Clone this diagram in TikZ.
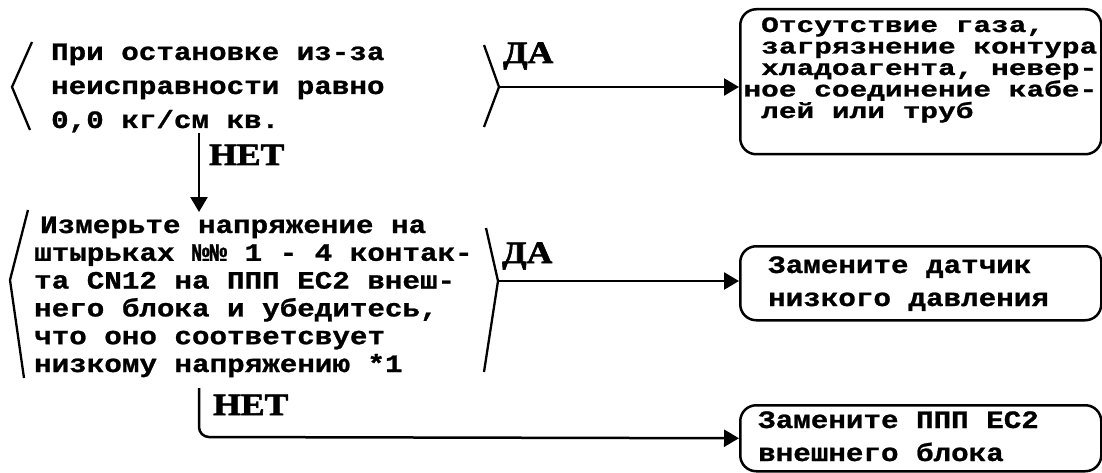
\documentclass[tikz,border=0pt]{standalone}
\usepackage{fontspec}
\usetikzlibrary{arrows.meta}
\newfontfamily\courA[FakeStretch=1.17,FakeBold=1]{Liberation Mono}
\newfontfamily\courB[FakeStretch=1.34,FakeBold=1]{Liberation Mono}
\newfontfamily\labf[FakeStretch=1.15,FakeBold=2]{Liberation Serif}
\protected\def\wspA{\frenchspacing\fontdimen2\font=17.5pt\relax\spaceskip=17.5pt\relax\xspaceskip=17.5pt\relax}
\protected\def\wspB{\frenchspacing\fontdimen2\font=17.7pt\relax\spaceskip=17.7pt\relax\xspaceskip=17.7pt\relax}
\begin{document}
\begin{tikzpicture}[x=1pt,y=-1pt,
  line width=2.3pt,
  brk/.style={line width=2.3pt, line join=miter},
  arr/.style={line width=2.5pt, -{Triangle[length=15pt,width=17pt]}},
  txt/.style={inner sep=0pt, anchor=base west, text width=520pt},
  dtxt/.style={txt, font=\courA\bfseries\fontsize{25}{34}\selectfont, execute at begin node=\wspA},
  dtxtb/.style={txt, font=\courA\bfseries\fontsize{25}{27.8}\selectfont, execute at begin node=\wspA},
  btxt/.style={txt, font=\courB\bfseries\fontsize{22}{21.5}\selectfont, execute at begin node=\wspB},
  btxtw/.style={txt, font=\courA\bfseries\fontsize{25}{33}\selectfont, execute at begin node=\wspA},
  lab/.style={inner sep=0pt, anchor=base west, font=\labf\bfseries\fontsize{31}{31}\selectfont},
  box/.style={draw, rounded corners=16pt, line width=2.5pt, anchor=north west, inner sep=0pt}]
\useasboundingbox (0,0) rectangle (1102,473);

% ---------- decision 1 ----------
\draw[brk] (32,42) -- (12,87) -- (30,130);
\coordinate (d1tip) at (499,87);
\draw[brk] (484,45) -- (d1tip) -- (484,127);
\node[dtxt] (d1) at (50,60) {При остановке из-за\\неисправности равно\\0,0 кг/см кв.};
\node[lab] (da1) at (502,63) {ДА};

% ---------- box 1 ----------
\node[box, minimum width=361pt, minimum height=145pt] (b1) at (739,8) {};
\node[btxt] (b1t) at (760,32) {Отсутствие газа,\\загрязнение контура\\хладоагента, невер-\\\hspace*{-17.7pt}ное соединение кабе-\\лей или труб};
\draw[arr] (d1tip) -- (d1tip -| b1.west);

% ---------- NO 1 ----------
\coordinate (n1s) at (199,133);
\coordinate (n1e) at (199,212);
\draw[arr] (n1s) -- (n1e);
\node[lab] (net1) at (208,165) {НЕТ};

% ---------- decision 2 ----------
\draw[brk] (28,210) -- (10,280) -- (24,378);
\coordinate (d2tip) at (498,281);
\draw[brk] (486,228) -- (d2tip) -- (484,372);
\node[dtxtb] (d2) at (33,233) {\hspace*{6pt}Измерьте напряжение на\\штырьках №№ 1 - 4 контак-\\та CN12 на ППП EC2 внеш-\\него блока и убедитесь,\\что оно соответсвует\\низкому напряжению *1};
\node[lab] (da2) at (501,263) {ДА};

% ---------- box 2 ----------
\node[box, minimum width=361pt, minimum height=74pt] (b2) at (739,245) {};
\node[btxtw] (b2t) at (767,273) {Замените датчик\\низкого давления};
\draw[arr] (d2tip) -- (d2tip -| b2.west);

% ---------- NO 2 / box 3 ----------
\node[box, minimum width=361pt, minimum height=66pt] (b3) at (739,404) {};
\node[btxtw] (b3t) at (757,428) {Замените ППП EC2\\внешнего блока};
\coordinate (n2s) at (199,388);
\draw[arr, rounded corners=10pt] (n2s) -- (199,437) -- (b3.west);
\node[lab] (net2) at (212,415) {НЕТ};
\end{tikzpicture}
\end{document}
